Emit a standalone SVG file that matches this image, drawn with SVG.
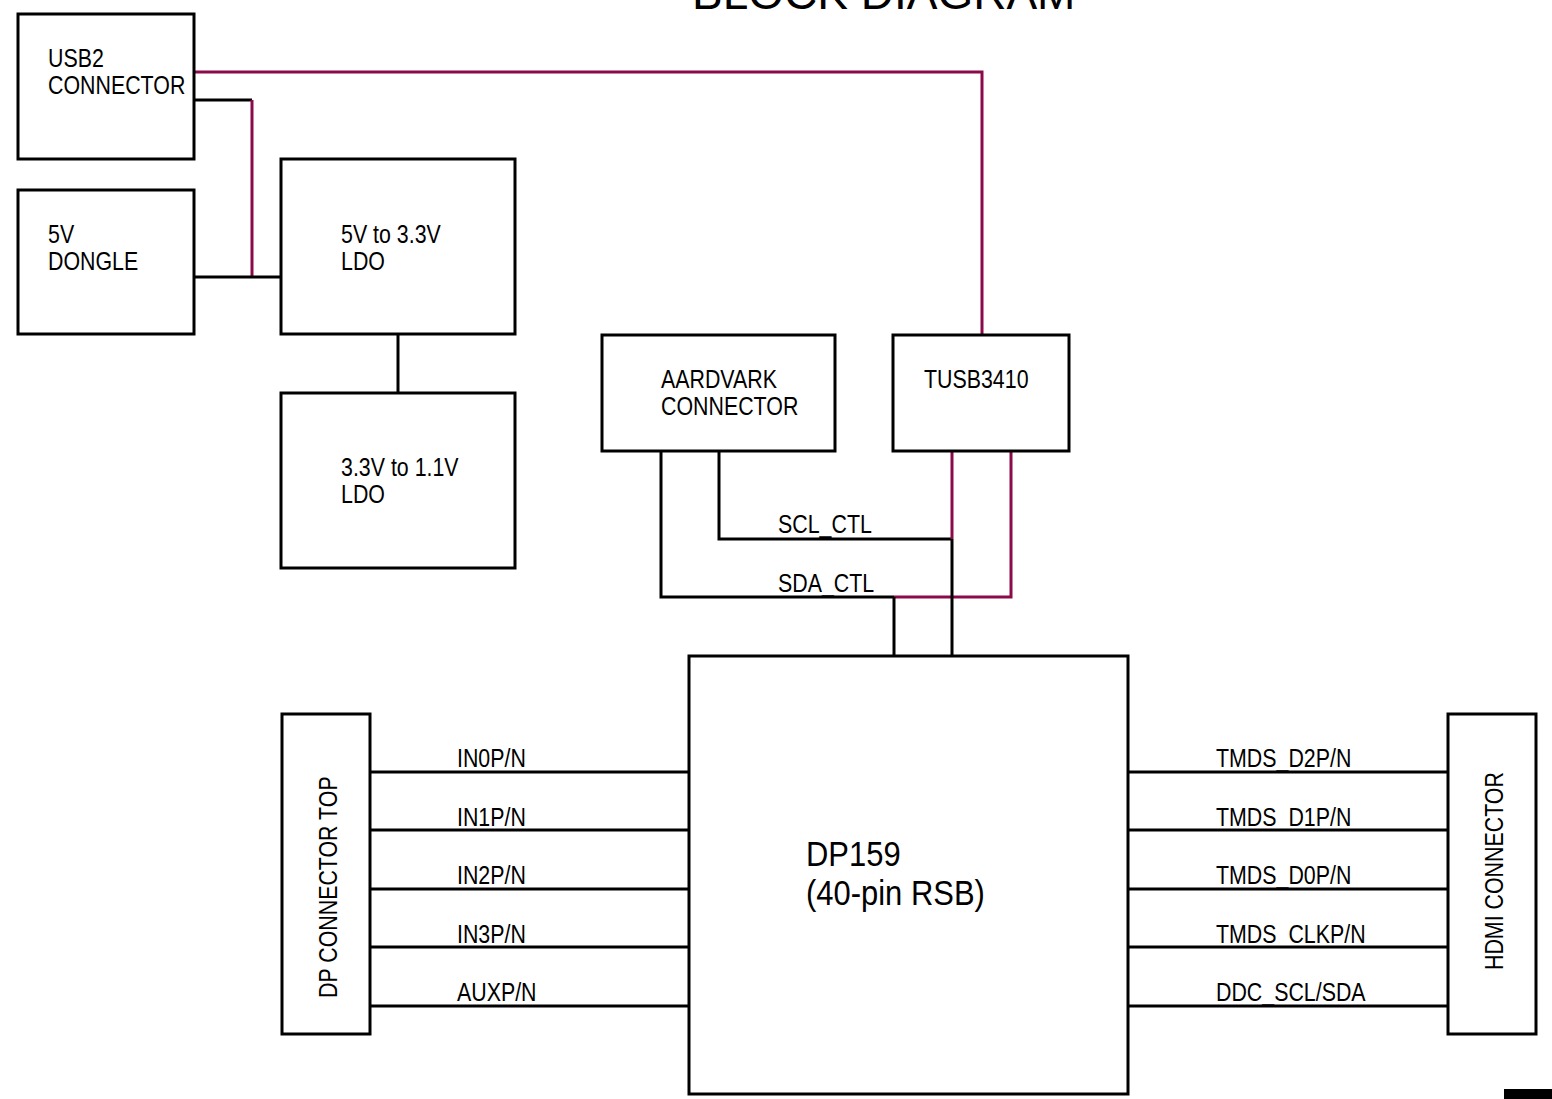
<svg xmlns="http://www.w3.org/2000/svg" width="1552" height="1099" viewBox="0 0 1552 1099">
<style>
.box{fill:#fff;stroke:#000;stroke-width:3}
.t{font-family:"Liberation Sans",Arial,sans-serif;font-size:25px;fill:#000}
.big{font-family:"Liberation Sans",Arial,sans-serif;font-size:36px;fill:#000}
.title{font-family:"Liberation Sans",Arial,sans-serif;font-size:46px;fill:#000}
.k{stroke:#000;stroke-width:3;fill:none}
.r{stroke:#8b0a4a;stroke-width:3;fill:none}
</style>
<rect width="1552" height="1099" fill="#fff"/>
<text class="title" x="692" y="9">BLOCK DIAGRAM</text>
<g id="connectors">
<polyline class="r" points="194,72 982,72 982,335"/>
<polyline class="k" points="194,100 252,100"/>
<polyline class="r" points="252,100 252,277"/>
<polyline class="k" points="194,277 281,277"/>
<line class="k" x1="398" y1="334" x2="398" y2="393"/>
<polyline class="k" points="661,451 661,597 894,597"/>
<polyline class="r" points="894,597 1011,597 1011,451"/>
<polyline class="k" points="719,451 719,539 952,539"/>
<line class="r" x1="952" y1="451" x2="952" y2="539"/>
<line class="k" x1="952" y1="539" x2="952" y2="656"/>
<line class="k" x1="894" y1="597" x2="894" y2="656"/>
<line class="k" x1="370" y1="772" x2="689" y2="772"/>
<line class="k" x1="370" y1="830" x2="689" y2="830"/>
<line class="k" x1="370" y1="889" x2="689" y2="889"/>
<line class="k" x1="370" y1="947" x2="689" y2="947"/>
<line class="k" x1="370" y1="1006" x2="689" y2="1006"/>
<line class="k" x1="1128" y1="772" x2="1448" y2="772"/>
<line class="k" x1="1128" y1="830" x2="1448" y2="830"/>
<line class="k" x1="1128" y1="889" x2="1448" y2="889"/>
<line class="k" x1="1128" y1="947" x2="1448" y2="947"/>
<line class="k" x1="1128" y1="1006" x2="1448" y2="1006"/>
<text class="t" transform="translate(778,533) scale(0.855,1)">SCL_CTL</text>
<text class="t" transform="translate(778,592) scale(0.855,1)">SDA_CTL</text>
<text class="t" transform="translate(457,767) scale(0.855,1)">IN0P/N</text>
<text class="t" transform="translate(457,826) scale(0.855,1)">IN1P/N</text>
<text class="t" transform="translate(457,884) scale(0.855,1)">IN2P/N</text>
<text class="t" transform="translate(457,943) scale(0.855,1)">IN3P/N</text>
<text class="t" transform="translate(457,1001) scale(0.855,1)">AUXP/N</text>
<text class="t" transform="translate(1216,767) scale(0.855,1)">TMDS_D2P/N</text>
<text class="t" transform="translate(1216,826) scale(0.855,1)">TMDS_D1P/N</text>
<text class="t" transform="translate(1216,884) scale(0.855,1)">TMDS_D0P/N</text>
<text class="t" transform="translate(1216,943) scale(0.855,1)">TMDS_CLKP/N</text>
<text class="t" transform="translate(1216,1001) scale(0.855,1)">DDC_SCL/SDA</text>
</g>
<g id="usb2"><rect class="box" x="18" y="14" width="176" height="145"/><text class="t" transform="translate(48,67) scale(0.855,1)">USB2</text><text class="t" transform="translate(48,94) scale(0.855,1)">CONNECTOR</text></g>
<g id="dongle"><rect class="box" x="18" y="190" width="176" height="144"/><text class="t" transform="translate(48,243) scale(0.855,1)">5V</text><text class="t" transform="translate(48,270) scale(0.855,1)">DONGLE</text></g>
<g id="ldo33"><rect class="box" x="281" y="159" width="234" height="175"/><text class="t" transform="translate(341,243) scale(0.855,1)">5V to 3.3V</text><text class="t" transform="translate(341,270) scale(0.855,1)">LDO</text></g>
<g id="ldo11"><rect class="box" x="281" y="393" width="234" height="175"/><text class="t" transform="translate(341,476) scale(0.855,1)">3.3V to 1.1V</text><text class="t" transform="translate(341,503) scale(0.855,1)">LDO</text></g>
<g id="aardvark"><rect class="box" x="602" y="335" width="233" height="116"/><text class="t" transform="translate(661,388) scale(0.855,1)">AARDVARK</text><text class="t" transform="translate(661,415) scale(0.855,1)">CONNECTOR</text></g>
<g id="tusb"><rect class="box" x="893" y="335" width="176" height="116"/><text class="t" transform="translate(924,388) scale(0.855,1)">TUSB3410</text></g>
<g id="dp159"><rect class="box" x="689" y="656" width="439" height="438"/><text class="big" transform="translate(806,866) scale(0.86,1)">DP159</text><text class="big" transform="translate(806,905) scale(0.86,1)">(40-pin RSB)</text></g>
<g id="dpconn"><rect class="box" x="282" y="714" width="88" height="320"/><text class="t" transform="translate(337,998) rotate(-90) scale(0.855,1)">DP CONNECTOR TOP</text></g>
<g id="hdmi"><rect class="box" x="1448" y="714" width="88" height="320"/><text class="t" transform="translate(1503,970) rotate(-90) scale(0.855,1)">HDMI CONNECTOR</text></g>
<rect x="1504" y="1089" width="48" height="10" fill="#000"/>
</svg>
